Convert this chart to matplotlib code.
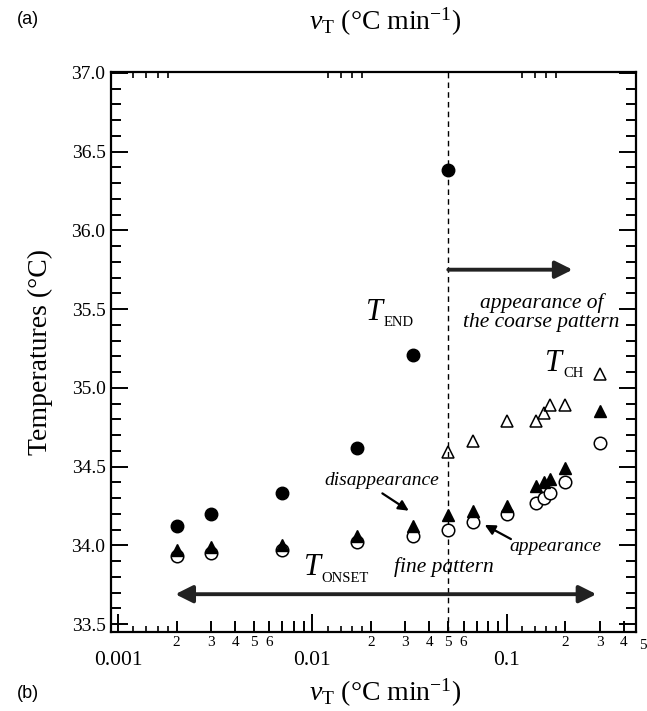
import numpy as np
import matplotlib
matplotlib.use('Agg')
import matplotlib.pyplot as plt
from matplotlib.ticker import FixedLocator, FuncFormatter, LogLocator, MultipleLocator, NullFormatter
import matplotlib.transforms as mtransforms

plt.rcParams['font.family'] = ['Liberation Serif', 'DejaVu Serif']
plt.rcParams['mathtext.fontset'] = 'custom'
plt.rcParams['mathtext.rm'] = 'Liberation Serif'
plt.rcParams['mathtext.it'] = 'Liberation Serif:italic'

# T_END (filled circles)
rate_end = [0.002, 0.003, 0.007, 0.017, 0.033, 0.05]
t_end = [34.12, 34.20, 34.33, 34.62, 35.21, 36.38]

# T_ONSET: disappearance of fine pattern (filled triangles)
rate_onset = [0.002, 0.003, 0.007, 0.017, 0.033, 0.05, 0.067, 0.1,
              0.141, 0.155, 0.167, 0.2, 0.3]
t_disappear = [33.97, 33.99, 34.00, 34.06, 34.12, 34.19, 34.22, 34.25,
               34.38, 34.40, 34.42, 34.49, 34.85]
# appearance (open circles)
t_appear = [33.93, 33.95, 33.97, 34.02, 34.06, 34.10, 34.15, 34.20,
            34.27, 34.30, 34.33, 34.40, 34.65]

# T_CH (open triangles)
rate_ch = [0.05, 0.067, 0.1, 0.141, 0.155, 0.167, 0.2, 0.3]
t_ch = [34.59, 34.66, 34.79, 34.79, 34.84, 34.89, 34.89, 35.09]

fig = plt.figure(figsize=(6.47, 7.11), dpi=100)
ax = fig.add_axes([111 / 647, 1 - 632 / 711, 525 / 647, 560 / 711])

ms = 9
ax.plot(rate_onset, t_appear, 'o', ms=ms, mfc='white', mec='black', mew=1.1, zorder=3)
ax.plot(rate_onset, t_disappear, '^', ms=ms, mfc='black', mec='black', zorder=4)
ax.plot(rate_ch, t_ch, '^', ms=ms, mfc='none', mec='black', mew=1.1, zorder=3)
ax.plot(rate_end, t_end, 'o', ms=ms, mfc='black', mec='black', zorder=4)

ax.axvline(0.05, color='black', ls=(0, (4, 3)), lw=1.0, zorder=1)

ax.set_xscale('log')
ax.set_xlim(0.00092, 0.462)
ax.set_ylim(33.45, 37.005)

# x ticks: decades, 2..9 (labels 2-6), plus small ones at 1.2..1.8
ax.xaxis.set_major_locator(LogLocator(base=10, numticks=10))
ax.xaxis.set_major_formatter(FuncFormatter(lambda v, p: f'{v:g}'))
ax.xaxis.set_minor_locator(LogLocator(base=10, subs=np.arange(2, 10), numticks=20))


def minor_fmt(v, p):
    m = int(round(v / 10 ** np.floor(np.log10(v) + 1e-9)))
    return str(m) if m in (2, 3, 4, 5, 6) else ''


ax.xaxis.set_minor_formatter(FuncFormatter(minor_fmt))
ax.yaxis.set_major_locator(MultipleLocator(0.5))
ax.yaxis.set_minor_locator(MultipleLocator(0.1))
ax.yaxis.set_major_formatter(FuncFormatter(lambda v, p: f'{v:.1f}'))

ax.tick_params(which='both', direction='in', top=True, right=True, color='black')
ax.tick_params(axis='x', which='major', length=13, width=1.4, labelsize=15.5, pad=14)
ax.tick_params(axis='x', which='minor', length=8, width=1.4, labelsize=11, pad=3)
ax.tick_params(axis='y', which='major', length=12, width=1.4, labelsize=14, pad=4)
ax.tick_params(axis='y', which='minor', length=7, width=1.4)
for s in ax.spines.values():
    s.set_linewidth(1.6)

# small ticks at 1.2, 1.4, 1.6, 1.8 per decade
ax2 = ax.twiny()
ax2.set_xscale('log')
ax2.set_xlim(ax.get_xlim())
small = [m * 10.0 ** e for e in (-3, -2, -1) for m in (1.2, 1.4, 1.6, 1.8)]
ax2.xaxis.set_major_locator(FixedLocator(small))
ax2.xaxis.set_minor_locator(FixedLocator([]))
ax2.xaxis.set_major_formatter(NullFormatter())
ax2.tick_params(which='both', direction='in', top=True, bottom=True, length=4, width=1.2)
for s in ax2.spines.values():
    s.set_visible(False)

# "5" label for 0.5 sitting just past the right edge
trans = mtransforms.blended_transform_factory(ax.transData, ax.transAxes)
ax.text(0.5, -0.012, '5', transform=trans, ha='center', va='top', fontsize=11, clip_on=False)

ax.set_ylabel('Temperatures (°C)', fontsize=20, labelpad=13)
xlab = r'$v_{\mathrm{T}}$ (°C min$^{\mathrm{-1}}$)'
fig.text(385 / 647, 1 - 693 / 711, xlab, fontsize=20, ha='center', va='center')
fig.text(385 / 647, 1 - 22 / 711, xlab, fontsize=20, ha='center', va='center')
fig.text(28 / 647, 1 - 20 / 711, '(a)', fontsize=13, family='Liberation Sans', ha='center', va='center')
fig.text(28 / 647, 1 - 693 / 711, '(b)', fontsize=13, family='Liberation Sans', ha='center', va='center')

# arrows
arw = dict(arrowstyle='<|-|>', color='#222222', lw=2.8, mutation_scale=26, shrinkA=0, shrinkB=0)
ax.annotate('', xy=(0.289, 33.69), xytext=(0.00197, 33.69), arrowprops=arw)
arw1 = dict(arrowstyle='-|>', color='#222222', lw=2.8, mutation_scale=26, shrinkA=0, shrinkB=0)
ax.annotate('', xy=(0.218, 35.75), xytext=(0.05, 35.75), arrowprops=arw1)
arw2 = dict(arrowstyle='-|>', color='black', lw=1.6, mutation_scale=15, shrinkA=0, shrinkB=0)
ax.annotate('', xy=(0.0313, 34.22), xytext=(0.0229, 34.33), arrowprops=arw2)
ax.annotate('', xy=(0.077, 34.13), xytext=(0.105, 34.04), arrowprops=arw2)


def t_label(x, y, sub):
    ax.text(x, y, 'T', fontsize=22, style='italic', ha='left', va='baseline')
    ax.annotate(sub, xy=(x, y), xytext=(13, -4.5), textcoords='offset points',
                fontsize=10.5, ha='left', va='baseline')


t_label(0.0188, 35.43, 'END')
t_label(0.157, 35.11, 'CH')
t_label(0.0090, 33.81, 'ONSET')

ax.text(0.151, 35.48, 'appearance of\nthe coarse pattern', fontsize=15.5, style='italic',
        ha='center', va='center', linespacing=1.0)
ax.text(0.0227, 34.41, 'disappearance', fontsize=14, style='italic', ha='center', va='center')
ax.text(0.177, 33.99, 'appearance', fontsize=14, style='italic', ha='center', va='center')
ax.text(0.0473, 33.86, 'fine pattern', fontsize=15.5, style='italic', ha='center', va='center')

fig.savefig('out.png', dpi=100)
